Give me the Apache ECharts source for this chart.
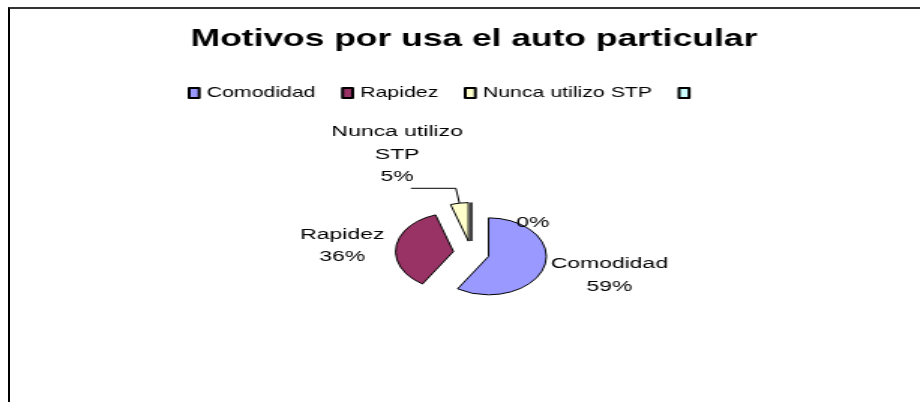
<!DOCTYPE html>
<html>
<head>
<meta charset="utf-8">
<script src="https://cdn.jsdelivr.net/npm/echarts@6/dist/echarts.min.js"></script>
<style>
  body { margin: 0; background: #fff; }
  #frame { position: absolute; left: 8px; top: 7px; width: 912px; height: 395px;
    border-left: 2px solid #000; border-top: 2px solid #333; box-sizing: border-box; }
  /* the original picture is stretched sideways, so the chart is drawn narrow and scaled */
  #main { position: absolute; left: 0; top: 0; width: 613px; height: 402px;
    transform: scaleX(1.5008); transform-origin: 0 0; }
</style>
</head>
<body>
<div id="frame"></div>
<div id="main"></div>
<script>
var categories = ['Comodidad', 'Rapidez', 'Nunca utilizo STP', ' '];
var percents = [59, 36, 5, 0];
var sliceColors = ['#9999FF', '#993366', '#FFFFCC', '#CCFFFF'];

// label centres in unscaled chart coords (before the exploded-slice offset is added)
var labelSpots = [[394.5, 272], [240, 247.5], [266.5, 166.5], [355, 235]];

function wrapName(name) {
  return name.length > 14 ? name.replace(/ (\S+)$/, '\n$1') : name;
}

var myChart = echarts.init(document.getElementById('main'));
myChart.setOption({
  animation: false,
  title: {
    text: 'Motivos por usa el auto particular',
    left: 127,
    top: 27,
    padding: 0,
    textStyle: { fontFamily: 'Liberation Sans', fontWeight: 'bold', fontSize: 23.6, color: '#000' }
  },
  legend: {
    left: 125,
    top: 86,
    padding: 0,
    itemWidth: 6.7,
    itemHeight: 10,
    itemGap: 17,
    icon: 'rect',
    textStyle: { fontFamily: 'Liberation Sans', fontSize: 14.2, color: '#000' }
  },
  series: [{
    type: 'pie',
    center: [314, 253],
    radius: 38.5,
    startAngle: 90,
    avoidLabelOverlap: false,
    selectedMode: 'multiple',
    selectedOffset: 12,
    emphasis: { disabled: true },
    itemStyle: { borderColor: '#000', borderWidth: 1 },
    label: {
      show: true,
      position: 'outside',
      color: '#000',
      fontFamily: 'Liberation Sans',
      fontSize: 15.3,
      lineHeight: 22.5,
      formatter: function (p) {
        var pct = Math.round(p.percent) + '%';
        return p.name.trim() ? wrapName(p.name) + '\n' + pct : pct;
      }
    },
    labelLine: { show: false },
    labelLayout: function (params) {
      var s = labelSpots[params.dataIndex];
      var r = params.labelRect;
      var anchorX = params.align === 'right' ? r.x + r.width
        : params.align === 'center' ? r.x + r.width / 2 : r.x;
      return {
        dx: s[0] - anchorX,
        dy: s[1] - (r.y + r.height / 2),
        align: 'center'
      };
    },
    data: categories.map(function (name, i) {
      var item = { name: name, value: percents[i], selected: true, itemStyle: { color: sliceColors[i] } };
      if (i === 2) item.labelLine = { show: true, lineStyle: { color: '#000', width: 1 } };
      return item;
    })
  }]
});
</script>
</body>
</html>
